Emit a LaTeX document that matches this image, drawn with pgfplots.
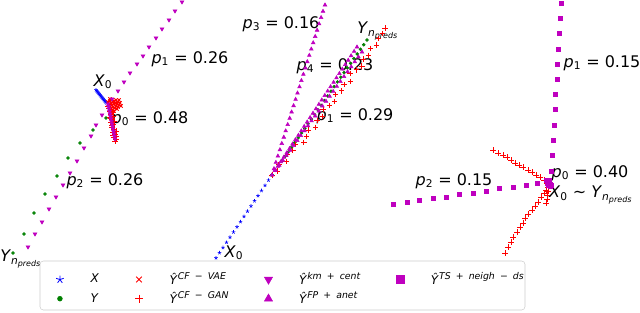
\documentclass[border=0pt]{standalone}
\usepackage{pgfplots}
\pgfplotsset{compat=1.18}
\usepackage{fontspec}
\setmainfont{DejaVu Sans}
\usetikzlibrary{plotmarks}
\definecolor{mM}{RGB}{191,0,191}
\definecolor{mG}{RGB}{0,128,0}
\newcommand{\pl}[2]{\textit{p}\textsubscript{#1} = #2}
\newcommand{\Yn}{\textit{Y}\textsubscript{\textit{n}\textsubscript{\textit{preds}}}}
\newcommand{\Yh}[1]{\textit{Ŷ}\raisebox{3.6pt}{\fontsize{7}{8}\selectfont\itshape #1}}
\newcommand{\mi}{\hspace{0.55em}\textup{−}\hspace{0.55em}}
\newcommand{\pu}{\hspace{0.55em}\textup{+}\hspace{0.55em}}
\tikzset{lblx/.style={font=\fontsize{12}{14}\selectfont, inner sep=0pt},
  rp/.style={only marks, mark=+, color=red, mark options={draw=red}, mark size=2pt, line width=0.75pt}}
\begin{document}
\begin{tikzpicture}
\begin{axis}[name=ax, at={(0,0)}, anchor=south west, scale only axis,
  width=480pt, height=234pt, xmin=0, xmax=640, ymin=0, ymax=312,
  y dir=reverse, hide axis, clip=false,
  legend columns=4,
  legend image code/.code={\path[draw=none,fill=none] (0pt,-1pt) rectangle (29pt,1pt); \path[draw=none,fill=none] plot[#1] coordinates {(8pt,0pt)};},
  legend style={at={(axis cs:45,267)}, anchor=north west, draw=none, fill=none,
    font=\fontsize{9}{10.5}\selectfont, legend cell align=left, row sep=0pt,
    /tikz/every even column/.append style={column sep=20pt}},
]
\draw[black!20, fill=white, rounded corners=2.5pt] (axis cs:40,261) rectangle (axis cs:525,310);
% ---------- Panel 1 ----------
\addplot[forget plot, only marks, mark=star, blue, mark size=1.4pt, line width=0.4pt] coordinates {
(96,90)(96.8,91)(97.6,92)(98.4,93)(99.2,94)(100,95)(100.8,96)(101.6,97)(102.4,98)(103.2,99)(104,100)(104.8,101)(105.6,102)(106.4,103)};
\addplot[forget plot, only marks, mark=*, mG, mark size=1.1pt] coordinates {
(106,118)(93,130)(80,143)(68,158)(57,176)(45,194)(34,213)(24,234)(13,253)};
\addplot[forget plot, only marks, mark=x, color=red, mark options={draw=red}, mark size=1.8pt, line width=0.6pt] coordinates {
(108,102)(110,101)(112,100)(114,101)(116,100)(118,102)(120,103)(109,104)(111,103)(113,102)(115,103)(117,104)(119,105)(110,106)(112,105)(114,104)(116,106)(118,107)(111,108)(113,107)(115,108)(117,109)(112,110)(114,111)(116,103)(119,100)(121,106)(110,99)};
\addplot[forget plot, rp] coordinates {
(109,108)(110,111)(111,114)(110,117)(112,119)(111,122)(113,124)(112,127)(114,129)(113,132)(115,134)(114,137)(116,139)(115,141)(112,112)(113,116)(114,121)(112,125)(116,131)(113,135)(110,105)(108,106)(116,136)(111,118)};
\addplot[forget plot, only marks, mark=triangle*, mark options={rotate=180}, mM, mark size=1.6pt] coordinates {
(118,91)(124,82)(130,73)(137,64)(143,56)(149,47)(156,38)(162,29)(169,20)(175,11)(182,2)(112,99)
(102,115)(96,125)(91,136)(84,148)(77,161)(70,173)(63,185)(56,197)(49,209)(42,222)(35,234)(28,247)
(108,104)(108.5,106.5)(109,109)(109.5,111.5)(110,114)(110.5,116.5)(111,119)(111.5,121.5)(112,124)(112.5,126.5)(113,129)(113.5,131.5)(114,134)(114.5,136.5)(115,139)};
% ---------- Panel 2 ----------
\addplot[forget plot, only marks, mark=star, blue, mark size=1.4pt, line width=0.4pt] coordinates {
(216,258)(219.5,252.8)(223,247.6)(226.5,242.4)(230,237.3)(233.5,232.1)(237,226.9)(240.5,221.7)(244,216.5)(247.5,211.3)(251,206.1)(254.5,200.9)(258,195.8)(261.5,190.6)(265,185.4)(268.5,180.2)(272,175)};
\addplot[forget plot, only marks, mark=*, mG, mark size=1.1pt] coordinates {
(272,175)(275.3,170.3)(278.6,165.7)(281.8,161)(285.1,156.4)(288.4,151.7)(291.7,147.1)(294.9,142.4)(298.2,137.8)(301.5,133.1)(304.8,128.5)(308,123.8)(311.3,119.1)(314.6,114.5)(317.9,109.8)(321.1,105.2)(324.4,100.5)(327.7,95.9)(331,91.2)(334.2,86.6)(337.5,81.9)(340.8,77.2)(344.1,72.6)(347.3,67.9)(350.6,63.3)(353.9,58.6)(357.2,54)(360.5,49.3)(363.7,44.7)(367,40)};
\addplot[forget plot, rp] coordinates {
(272,175)(277.5,171.1)(278.9,164.2)(286,161.5)(287.4,154.6)(292.9,150.7)(295.6,144.7)(303.9,142.6)(306.2,136.3)(308.5,130)(315.5,127.3)(317,120.4)(322.4,116.5)(323.1,109)(329.4,105.6)(334.8,101.8)(335.5,94.2)(341.8,90.9)(344,84.6)(350.3,81.3)(350.1,73.2)(356.4,69.9)(361.9,66)(363.3,59.1)(368.8,55.2)(370.3,48.3)(376.5,45)(378.8,38.7)(382.4,33.2)(385,28)};
\addplot[forget plot, only marks, mark=triangle*, mM, mark size=1.6pt] coordinates {
(272,175)(274,168.7)(275.9,162.4)(277.9,156.1)(279.9,149.8)(281.8,143.5)(283.8,137.2)(285.7,130.9)(287.7,124.6)(289.7,118.3)(291.6,112)(293.6,105.7)(295.6,99.4)(297.5,93.1)(299.5,86.9)(301.4,80.6)(303.4,74.3)(305.4,68)(307.3,61.7)(309.3,55.4)(311.3,49.1)(313.2,42.8)(315.2,36.5)(317.1,30.2)(319.1,23.9)(321.1,17.6)(323,11.3)(325,5)
(274.9,170.6)(277.9,166.2)(280.8,161.8)(283.7,157.3)(286.7,152.9)(289.6,148.5)(292.5,144.1)(295.4,139.7)(298.4,135.3)(301.3,130.9)(304.2,126.4)(307.2,122)(310.1,117.6)(313,113.2)(316,108.8)(318.9,104.4)(321.8,100)(324.8,95.5)(327.7,91.1)(330.6,86.7)(333.6,82.3)(336.5,77.9)(339.4,73.5)(342.3,69.1)(345.3,64.6)(348.2,60.2)(351.1,55.8)(354.1,51.4)(357,47)
(275.6,170.1)(279.2,165.2)(282.8,160.2)(286.4,155.3)(290,150.4)(293.6,145.5)(297.2,140.6)(300.8,135.6)(304.4,130.7)(308,125.8)(311.6,120.9)(315.2,116)(318.8,111)(322.4,106.1)(326,101.2)(329.6,96.3)(333.2,91.4)(336.8,86.4)(340.4,81.5)(344,76.6)(347.6,71.7)(351.2,66.8)(354.8,61.8)(358.4,56.9)(362,52)};
% ---------- Panel 3 ----------
\addplot[forget plot, rp] coordinates {
(493,150)(498,153)(503,155)(507,157)(511,160)(515,163)(519,165)(523,167)(528,170)(532,172)(536,175)(540,177)(544,180)(547,183)
(505,253)(508,247)(511,242)(513,237)(517,232)(520,227)(523,223)(525,218)(528,214)(532,210)(535,206)(538,202)(541,197)(544,193)(546,190)(548,187)(548,191)(547,195)(547,199)(546,203)};
\addplot[forget plot, only marks, mark=square*, mM, mark size=1.5pt] coordinates {
(549,180)(551,171)(552,155)(553,140)(554,125)(555,109)(555,94)(557,79)(557,64)(558,49)(559,33)(560,18)(561,3)
(537,183)(526,185)(513,187)(499,188)(486,191)(473,193)(459,194)(446,197)(433,198)(419,200)(407,202)(393,204)
(546,180)(547,181)(548,182)(549,183)(550,184)(548,185)(547,183)(549,181)(550,186)(551,185)};
% ---------- labels ----------
\node[lblx] at (axis cs:103,82) {\textit{X}\textsubscript{0}};
\node[lblx] at (axis cs:190,59) {\pl{1}{0.26}};
\node[lblx] at (axis cs:150,119) {\pl{0}{0.48}};
\node[lblx] at (axis cs:105,181) {\pl{2}{0.26}};
\node[lblx, anchor=west] at (axis cs:0,259) {\Yn};
\node[lblx] at (axis cs:281,24) {\pl{3}{0.16}};
\node[lblx, anchor=west] at (axis cs:357,31) {\Yn};
\node[lblx] at (axis cs:335,66) {\pl{4}{0.23}};
\node[lblx] at (axis cs:355,116) {\pl{1}{0.29}};
\node[lblx] at (axis cs:234,253) {\textit{X}\textsubscript{0}};
\node[lblx] at (axis cs:602,63) {\pl{1}{0.15}};
\node[lblx] at (axis cs:590,173) {\pl{0}{0.40}};
\node[lblx] at (axis cs:591,195) {\textit{X}\textsubscript{0} ∼ \Yn};
\node[lblx] at (axis cs:454,181) {\pl{2}{0.15}};
% ---------- legend ----------
\addlegendimage{only marks, mark=star, blue, mark size=3pt, line width=0.6pt}
\addlegendentry{\textit{X}}
\addlegendimage{only marks, mark=x, red, mark options={draw=red}, mark size=3pt, line width=0.7pt}
\addlegendentry{\Yh{CF\mi VAE}}
\addlegendimage{only marks, mark=triangle*, mark options={rotate=180}, mM, mark size=3.5pt}
\addlegendentry{\Yh{km\pu cent}}
\addlegendimage{only marks, mark=square*, mM, mark size=3pt}
\addlegendentry{\Yh{TS\pu neigh\mi ds}}
\addlegendimage{only marks, mark=*, mG, mark size=1.8pt}
\addlegendentry{\textit{Y}}
\addlegendimage{only marks, mark=+, red, mark options={draw=red}, mark size=3pt, line width=0.7pt}
\addlegendentry{\Yh{CF\mi GAN}}
\addlegendimage{only marks, mark=triangle*, mM, mark size=3.5pt}
\addlegendentry{\Yh{FP\pu anet}}
\end{axis}
\pgfresetboundingbox
\path (ax.south west) rectangle (ax.north east);
\end{tikzpicture}
\end{document}
